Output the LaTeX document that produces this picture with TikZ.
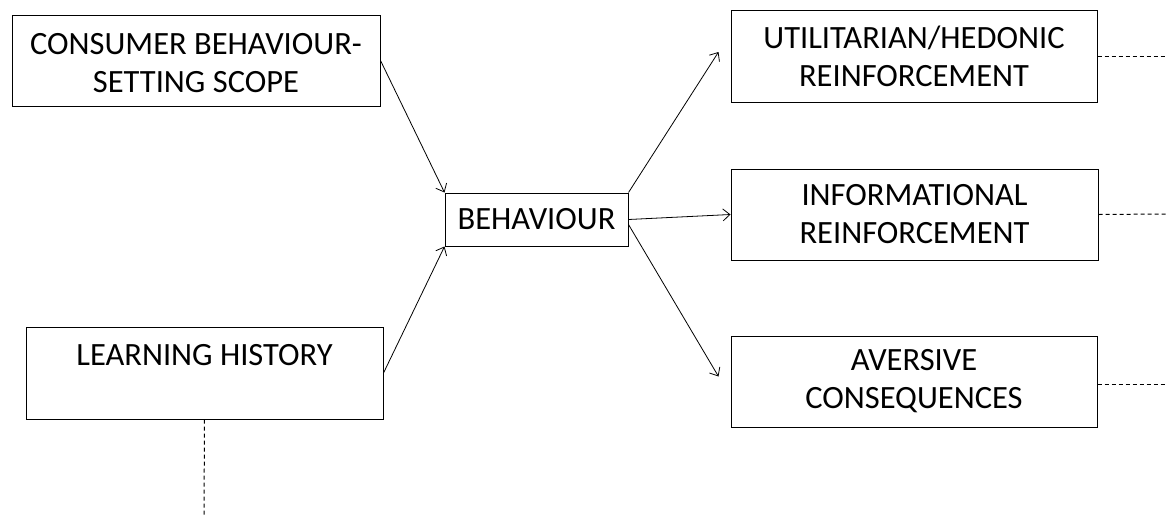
\documentclass[tikz,border=0pt]{standalone}
\usepackage{fontspec}
\setmainfont{Carlito}
\usetikzlibrary{arrows.meta,calc}
\begin{document}
\begin{tikzpicture}[x=1pt,y=-1pt,
  box/.style={draw,line width=1pt,inner sep=0pt,align=center,
    font=\fontsize{32.5}{38}\selectfont},
  link/.style={line width=0.8pt,-{Straight Barb[length=7pt,width=12pt]}},
  trail/.style={line width=1pt,dash pattern=on 4pt off 3pt}]
\useasboundingbox (0,0) rectangle (1166,517);

% left-hand inputs
\node[box,minimum width=368pt,minimum height=91pt] (cbs) at (196,60.5)
  {\rule{0pt}{27pt}CONSUMER BEHAVIOUR-\\SETTING SCOPE};
\node[box,minimum width=357pt,minimum height=92pt] (lh) at (204.5,373)
  {LEARNING HISTORY\rule[-36pt]{0pt}{36pt}};

% central node
\node[box,minimum width=183pt,minimum height=53pt] (beh) at (536.5,219.5)
  {BEHAVIOUR};

% consequences
\node[box,minimum width=366pt,minimum height=92pt] (util) at (914,56)
  {UTILITARIAN/HEDONIC\\REINFORCEMENT};
\node[box,minimum width=367pt,minimum height=91pt] (info) at (914.5,214.5)
  {INFORMATIONAL\\REINFORCEMENT};
\node[box,minimum width=366pt,minimum height=91pt] (aver) at (914,381.5)
  {AVERSIVE\\CONSEQUENCES};

% arrow ends and dashed trails
\coordinate (utilIn) at ($(util.west)+(-12,-4)$);
\coordinate (averIn) at ($(aver.west)+(-12,-5)$);
\coordinate (behLow) at ($(beh.east)+(0,5)$);
\coordinate (utilOut) at (1166,56);
\coordinate (infoOut) at (1166,214);
\coordinate (averOut) at (1166,384);
\coordinate (lhOut) at (204,517);

\draw[link] (cbs.east) -- (beh.north west);
\draw[link] (lh.east) -- (beh.south west);
\draw[link] (beh.north east) -- (utilIn);
\draw[link] (beh.east) -- (info.west);
\draw[link] (behLow) -- (averIn);

\draw[trail] (util.east) -- (utilOut);
\draw[trail] (info.east) -- (infoOut);
\draw[trail] (aver.east |- averOut) -- (averOut);
\draw[trail] (lh.south) -- (lhOut);
\end{tikzpicture}
\end{document}
